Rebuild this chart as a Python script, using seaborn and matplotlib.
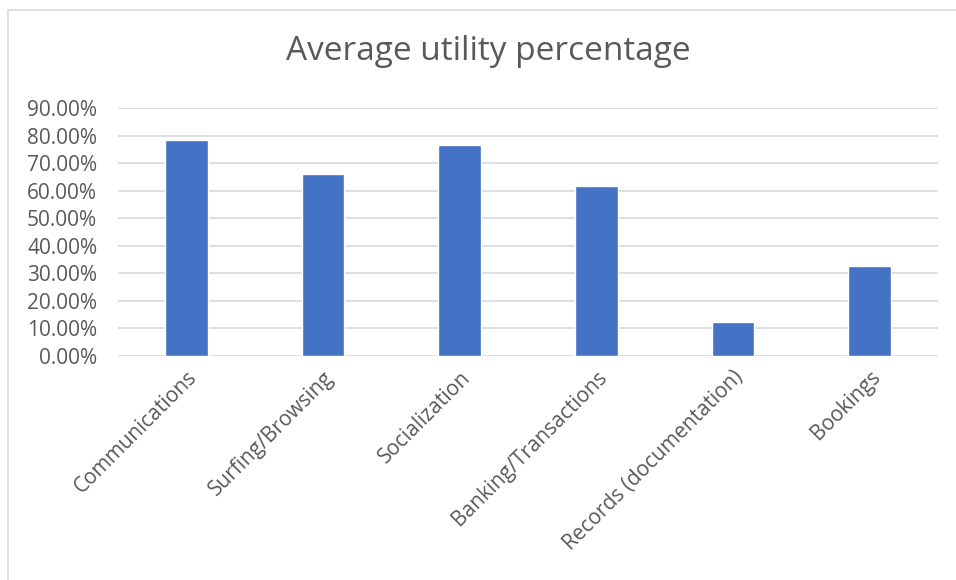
import matplotlib
matplotlib.use("Agg")
import matplotlib.pyplot as plt
from matplotlib.patches import Rectangle
from matplotlib.ticker import FuncFormatter, MultipleLocator
import seaborn as sns
import pandas as pd

categories = ["Communications", "Surfing/Browsing", "Socialization",
              "Banking/Transactions", "Records (documentation)", "Bookings"]
values = [0.783, 0.661, 0.764, 0.617, 0.123, 0.327]

title = "Average utility percentage"
bar_color = "#4472C4"
text_color = "#595959"
grid_color = "#D9D9D9"

sns.set_theme(style="white")
plt.rcParams["font.family"] = ["Open Sans", "DejaVu Sans"]

df = pd.DataFrame({"category": categories, "value": values})

fig = plt.figure(figsize=(9.56, 5.8), dpi=100)
ax = fig.add_axes([118 / 956, 1 - 355.7 / 580, (938 - 118) / 956, (355.7 - 108) / 580])

sns.barplot(data=df, x="category", y="value", color=bar_color, width=0.31,
            saturation=1, ax=ax, zorder=3)

ax.set_ylim(0, 0.9)
ax.yaxis.set_major_locator(MultipleLocator(0.1))
ax.yaxis.set_major_formatter(FuncFormatter(lambda v, _: f"{v * 100:.2f}%"))
ax.grid(axis="y", color=grid_color, linewidth=1.2, zorder=0)
ax.set_axisbelow(True)
for side in ["top", "right", "left", "bottom"]:
    ax.spines[side].set_visible(False)
ax.set_xlabel("")
ax.set_ylabel("")
ax.tick_params(axis="both", length=0, colors=text_color, labelsize=15)
ax.tick_params(axis="y", pad=15)
ax.tick_params(axis="x", pad=8)
plt.setp(ax.get_xticklabels(), rotation=45, ha="right", rotation_mode="anchor")

fig.text(488 / 956, 1 - 52 / 580, title, ha="center", va="center",
         fontsize=24, color=text_color)

# chart frame
fig.patches.append(Rectangle((8 / 956, -0.05), 1.0, 1 - 10 / 580 + 0.05,
                             transform=fig.transFigure, fill=False,
                             edgecolor="#D9D9D9", linewidth=1.2))

fig.savefig("out.png", dpi=100, facecolor="white")
